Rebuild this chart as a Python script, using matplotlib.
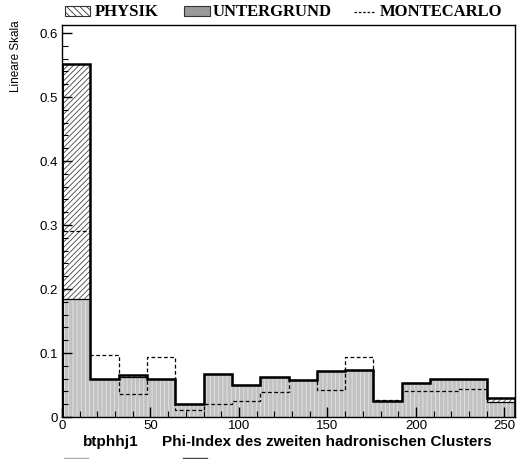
import numpy as np
import matplotlib.pyplot as plt
from matplotlib.lines import Line2D

# bin edges: 16 bins of width 16 from 0 to 256
edges = np.arange(0, 257, 16)
untergrund = [0.184, 0.060, 0.062, 0.059, 0.020, 0.067, 0.050, 0.063,
              0.058, 0.072, 0.073, 0.025, 0.053, 0.059, 0.059, 0.023]
physik = [0.367, 0.0, 0.004, 0.0, 0.0, 0.0, 0.0, 0.0,
          0.0, 0.0, 0.0, 0.0, 0.0, 0.0, 0.0, 0.006]
montecarlo = [0.291, 0.097, 0.036, 0.093, 0.011, 0.020, 0.025, 0.039,
              0.058, 0.042, 0.093, 0.026, 0.040, 0.041, 0.044, 0.030]

W, H = 518, 459
fig = plt.figure(figsize=(W / 100, H / 100), dpi=100)
ax = fig.add_axes([62 / W, 1 - 417 / H, (515 - 62) / W, (417 - 25) / H])

bg = np.array(untergrund)
tot = bg + np.array(physik)
left = edges[:-1]
width = np.diff(edges)

plt.rcParams['hatch.linewidth'] = 0.6
ax.bar(left, bg, width=width, align='edge', color='#c2c2c2',
       edgecolor='#e4e4e4', hatch='||||', linewidth=0, zorder=1)
ax.bar(left, physik, bottom=bg, width=width, align='edge', color='white',
       edgecolor='#444444', hatch='//////', linewidth=0, zorder=1)

ax.stairs(bg, edges, color='black', linewidth=0.9, zorder=3)
ax.stairs(tot, edges, color='black', linewidth=1.8, zorder=4)
ax.stairs(montecarlo, edges, color='black', linewidth=0.9,
          linestyle=(0, (3, 2)), zorder=5)
ax.plot([0, 0], [0, tot[0]], color='black', linewidth=1.8, zorder=4)

ax.set_xlim(0, 256)
ax.set_ylim(0, 0.6125)
ax.set_xticks(np.arange(0, 251, 50))
ax.set_xticks(np.arange(0, 256, 10), minor=True)
ax.set_yticks(np.arange(0, 0.61, 0.1))
ax.set_yticks(np.arange(0, 0.61, 0.02), minor=True)
ax.set_yticklabels(['0', '0.1', '0.2', '0.3', '0.4', '0.5', '0.6'])
ax.tick_params(which='both', direction='in', top=False, right=False,
               labelsize=9.5)
ax.tick_params(which='major', length=7, width=1)
ax.tick_params(which='minor', length=4, width=0.8)
for lab in ax.get_xticklabels() + ax.get_yticklabels():
    lab.set_family('Liberation Sans')
ax.tick_params(axis='x', pad=2)
ax.tick_params(axis='y', pad=3)
for s in ax.spines.values():
    s.set_linewidth(1.0)

# axis texts
fig.text(16 / W, 1 - 20 / H, 'Lineare Skala', rotation=90, ha='center',
         va='top', fontsize=8.5, family='Liberation Sans')
fig.text(83 / W, 1 - 442 / H, 'btphhj1', ha='left', va='center',
         fontsize=11, fontweight='bold', family='Liberation Sans')
fig.text(162 / W, 1 - 442 / H, 'Phi-Index des zweiten hadronischen Clusters',
         ha='left', va='center', fontsize=11, fontweight='bold',
         family='Liberation Sans')

# legend at the top
lax = fig.add_axes([0, 0, 1, 1], facecolor='none')
lax.set_xlim(0, W)
lax.set_ylim(H, 0)
lax.axis('off')
lax.add_patch(plt.Rectangle((65, 6), 25, 10, facecolor='white',
                            edgecolor='#333333', hatch='\\\\\\\\\\', linewidth=0.8))
lax.text(95, 11.5, 'PHYSIK', ha='left', va='center', fontsize=12,
         fontweight='bold', family='Liberation Serif')
lax.add_patch(plt.Rectangle((184, 6), 26, 10, facecolor='#9a9a9a',
                            edgecolor='#333333', linewidth=0.8))
lax.text(213, 11.5, 'UNTERGRUND', ha='left', va='center', fontsize=12,
         fontweight='bold', family='Liberation Serif')
lax.add_line(Line2D([354, 374], [11.5, 11.5], color='black', linewidth=0.9,
                    linestyle=(0, (2, 1.5))))
lax.text(380, 11.5, 'MONTECARLO', ha='left', va='center', fontsize=12,
         fontweight='bold', family='Liberation Serif')

# cut-off marks at the bottom edge
lax.add_line(Line2D([64, 88], [457.5, 457.5], color='#aaaaaa', linewidth=1))
lax.add_line(Line2D([183, 207], [457.5, 457.5], color='#444444', linewidth=1))

fig.savefig('out.png', dpi=100)
